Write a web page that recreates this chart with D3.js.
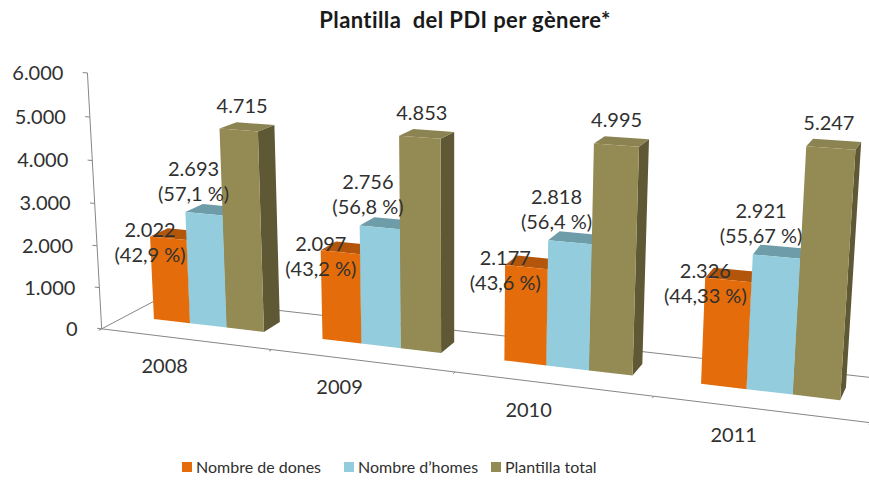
<!DOCTYPE html>
<html>
<head>
<meta charset="utf-8">
<script src="https://cdn.jsdelivr.net/npm/d3@7"></script>
<style>
body { margin: 0; background: #fff; }
text { font-family: Lato, "Open Sans", sans-serif; fill: #303030; }
</style>
</head>
<body>
<script>
var years = ['2008', '2009', '2010', '2011'];
var series = ['Nombre de dones', 'Nombre d\u2019homes', 'Plantilla total'];
var dones = [2022, 2097, 2177, 2326];
var homes = [2693, 2756, 2818, 2921];
var total = [4715, 4853, 4995, 5247];
var pctDones = ['42,9', '43,2', '43,6', '44,33'];
var pctHomes = ['57,1', '56,8', '56,4', '55,67'];
var yTicks = [0, 1000, 2000, 3000, 4000, 5000, 6000];

var colors = {
	front: ['#e46c0a', '#93cddd', '#948a54'],
	top:   ['#b3560b', '#6e9ca8', '#8b8352'],
	side:  ['#a34c09', '#5f8a95', '#5e5835']
};

var fmt = d3.formatLocale({decimal: ',', thousands: '.', grouping: [3], currency: ['', '']}).format(',d');

var width = 869, height = 485;

var svg = d3.select('body')
	.append('svg')
	.attr('width', width)
	.attr('height', height);

// --- 3D camera (world units: x along categories, y = value, z = depth) ---
var L = 17.12, depth = 2.7;
var cam = {yaw: 20.5, pitch: 15, dist: 34.25, height: 11.8, f: 1720, cx: 455, cy: 251.4};
var ya = cam.yaw * Math.PI / 180, pa = cam.pitch * Math.PI / 180;
var eye = [L / 2 + cam.dist * Math.sin(ya), cam.height, -cam.dist * Math.cos(ya)];

function project(X, Y, Z) {
	var vx = X - eye[0], vy = Y - eye[1], vz = Z - eye[2];
	var x1 = vx * Math.cos(ya) + vz * Math.sin(ya),
		z1 = -vx * Math.sin(ya) + vz * Math.cos(ya);
	var yc = vy * Math.cos(pa) + z1 * Math.sin(pa),
		zc = -vy * Math.sin(pa) + z1 * Math.cos(pa);
	return [cam.cx + cam.f * x1 / zc, cam.cy - cam.f * yc / zc];
}

var x = d3.scaleBand().domain(years).range([0, L]);
var xs = d3.scaleBand().domain(series).range([0, x.bandwidth()]).paddingOuter(0.77);
var y = d3.scaleLinear().domain([0, 6000]).range([0, 5.85]);
var z0 = 0.4 * depth, z1 = 0.7 * depth;

function poly(pts) {
	return 'M' + pts.map(function(p) { return project(p[0], p[1], p[2]).join(','); }).join('L') + 'Z';
}
function seg(g, a, b) {
	var p = project(a[0], a[1], a[2]), q = project(b[0], b[1], b[2]);
	g.append('line')
		.attr('x1', p[0]).attr('y1', p[1])
		.attr('x2', q[0]).attr('y2', q[1])
		.attr('stroke', '#868686')
		.attr('stroke-width', 1);
}

// floor + axes
var axes = svg.append('g');
seg(axes, [0, 0, depth], [L, 0, depth]);
seg(axes, [0, 0, 0], [0, 0, depth]);
seg(axes, [0, y(0), 0], [0, y(6000), 0]);

yTicks.forEach(function(t) {
	seg(axes, [0, y(t), 0], [-0.12, y(t), 0]);
	var p = project(0, y(t), 0);
	axes.append('text')
		.attr('x', p[0] - 24)
		.attr('y', p[1])
		.attr('dy', '0.35em')
		.attr('text-anchor', 'end')
		.style('font-size', '20px')
		.text(fmt(t));
});

// bars, far (left) to near (right)
var values = [dones, homes, total];
var bars = [];
years.forEach(function(yr, i) {
	series.forEach(function(s, j) {
		bars.push({i: i, j: j, x0: x(yr) + xs(s), x1: x(yr) + xs(s) + xs.bandwidth(), v: values[j][i]});
	});
});

var barG = svg.append('g');
bars.forEach(function(b) {
	var h = y(b.v);
	barG.append('path')
		.attr('d', poly([[b.x1, 0, z0], [b.x1, 0, z1], [b.x1, h, z1], [b.x1, h, z0]]))
		.attr('fill', colors.side[b.j]);
	barG.append('path')
		.attr('d', poly([[b.x0, h, z0], [b.x1, h, z0], [b.x1, h, z1], [b.x0, h, z1]]))
		.attr('fill', colors.top[b.j]);
	barG.append('path')
		.attr('d', poly([[b.x0, 0, z0], [b.x1, 0, z0], [b.x1, h, z0], [b.x0, h, z0]]))
		.attr('fill', colors.front[b.j]);
});

// front edge of the floor and category ticks
seg(svg, [0, 0, 0], [L, 0, 0]);
years.concat(['end']).forEach(function(yr) {
	var X = yr === 'end' ? L : x(yr);
	seg(svg, [X, 0, 0], [X, 0, -0.12]);
});

years.forEach(function(yr) {
	var p = project(x(yr) + x.bandwidth() * 0.38, 0, 0);
	svg.append('text')
		.attr('x', p[0])
		.attr('y', p[1] + 29)
		.attr('dy', '0.35em')
		.attr('text-anchor', 'middle')
		.style('font-size', '20px')
		.text(yr);
});

// data labels
var labelOff = [{dx: -27, dy: -4}, {dx: -19, dy: -41}, {dx: -5, dy: -21}];
var pcts = [pctDones, pctHomes, null];
bars.forEach(function(b) {
	var p = project((b.x0 + b.x1) / 2, y(b.v), (z0 + z1) / 2);
	var o = labelOff[b.j];
	var t = svg.append('text')
		.attr('text-anchor', 'middle')
		.style('font-size', '20px');
	t.append('tspan')
		.attr('x', p[0] + o.dx)
		.attr('y', p[1] + o.dy)
		.attr('dy', '0.35em')
		.text(fmt(b.v));
	if (pcts[b.j]) {
		t.append('tspan')
			.attr('x', p[0] + o.dx)
			.attr('y', p[1] + o.dy + 25)
			.attr('dy', '0.35em')
			.text('(' + pcts[b.j][b.i] + ' %)');
	}
});

// title
svg.append('text')
	.attr('x', 465)
	.attr('y', 28)
	.attr('text-anchor', 'middle')
	.style('font-size', '22px')
	.style('font-weight', 'bold')
	.style('letter-spacing', '0.4px')
	.style('white-space', 'pre')
	.style('fill', '#1a1a1a')
	.text('Plantilla  del PDI per g\u00e8nere*');

// legend
var legendX = d3.scaleOrdinal().domain(series).range([182, 344, 491]);
var legend = svg.append('g').attr('transform', 'translate(0,467)');
series.forEach(function(s, j) {
	legend.append('rect')
		.attr('x', legendX(s)).attr('y', -5)
		.attr('width', 10).attr('height', 10)
		.attr('fill', colors.front[j]);
	legend.append('text')
		.attr('x', legendX(s) + 14)
		.attr('y', 0)
		.attr('dy', '0.35em')
		.style('font-size', '16px')
		.text(s);
});
</script>
</body>
</html>
